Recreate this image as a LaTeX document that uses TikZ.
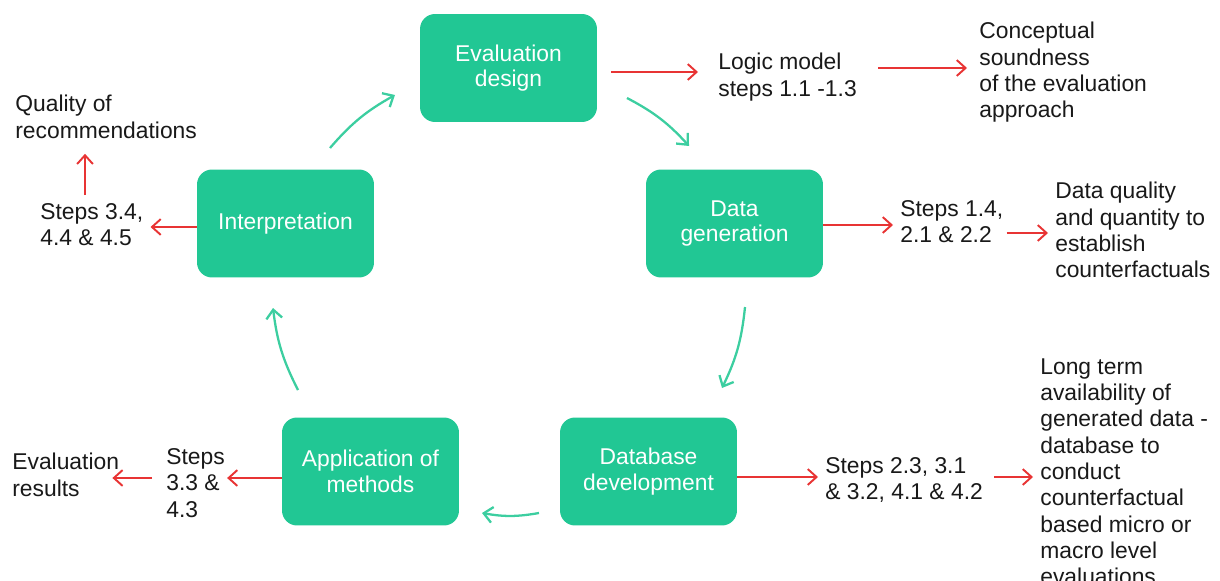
\documentclass[tikz,border=0pt]{standalone}
\usepackage{fontspec}
\setmainfont{Liberation Sans}
\usetikzlibrary{arrows.meta}
\definecolor{boxgreen}{RGB}{33,199,148}
\definecolor{arrgreen}{RGB}{60,206,160}
\definecolor{arrred}{RGB}{232,52,52}
\definecolor{txt}{RGB}{25,25,25}
\tikzset{
  stagebox/.style={rectangle, rounded corners=0.3cm, fill=boxgreen, text=white,
    minimum width=3.54cm, minimum height=2.16cm, align=center, inner sep=0pt,
    font=\fontsize{13}{14.5}\selectfont},
  lbl/.style={anchor=north west, align=left, inner sep=0pt, text=txt,
    font=\fontsize{13}{15}\selectfont},
  redarr/.style={draw=arrred, line width=1.1pt, -{Straight Barb[length=5pt,width=9pt]}},
  greenarr/.style={draw=arrgreen, line width=1.3pt, -{Straight Barb[length=5pt,width=9pt]}, bend left=10},
}
\begin{document}
\begin{tikzpicture}[x=0.02cm,y=0.02cm]
\useasboundingbox (0,0) rectangle (1220,-581);
\clip (0,0) rectangle (1220,-581);

% stage boxes
\node[stagebox] (eval)   at (508.5,-68)   {Evaluation\\design};
\node[stagebox] (datagen) at (734.5,-223.5) {Data\\generation};
\node[stagebox] (dbdev)  at (648.5,-471.5) {Database\\development};
\node[stagebox] (appl)   at (370.5,-471.5) {Application of\\methods};
\node[stagebox] (interp) at (285.5,-223.5) {Interpretation};

% labels
\node[lbl] (logic)    at (718,-53)  {Logic model\\steps 1.1 -1.3};
\node[lbl] (concept)  at (979,-22)  {Conceptual\\soundness\\of the evaluation\\approach};
\node[lbl] (steps14)  at (900,-200) {Steps 1.4,\\2.1 \& 2.2};
\node[lbl] (dataq)    at (1055,-182) {Data quality\\and quantity to\\establish\\counterfactuals};
\node[lbl] (steps23)  at (825,-457) {Steps 2.3, 3.1\\\& 3.2, 4.1 \& 4.2};
\node[lbl] (longterm) at (1040,-358) {Long term\\availability of\\generated data -\\database to\\conduct\\counterfactual\\based micro or\\macro level\\evaluations};
\node[lbl] (steps33)  at (166,-448) {Steps\\3.3 \&\\4.3};
\node[lbl] (evalres)  at (12,-453)  {Evaluation\\results};
\node[lbl] (steps34)  at (40,-203)  {Steps 3.4,\\4.4 \& 4.5};
\node[lbl] (quality)  at (15,-95)   {Quality of\\recommendations};

% red arrows
\draw[redarr, shorten <=0.28cm, shorten >=0.40cm] (eval.east |- 0,-72) -- (logic.west |- 0,-72);
\draw[redarr, shorten <=0.42cm, shorten >=0.24cm] (logic.east |- 0,-68) -- (concept.west |- 0,-68);
\draw[redarr, shorten >=0.14cm] (datagen.east |- 0,-225) -- (steps14.west |- 0,-225);
\draw[redarr, shorten <=0.06cm, shorten >=0.14cm] (steps14.east |- 0,-233) -- (dataq.west |- 0,-233);
\draw[redarr, shorten >=0.14cm] (dbdev.east |- 0,-477) -- (steps23.west |- 0,-477);
\draw[redarr, shorten <=0.22cm, shorten >=0.14cm] (steps23.east |- 0,-477) -- (longterm.west |- 0,-477);
\draw[redarr, shorten >=0.04cm] (appl.west |- 0,-478) -- (steps33.east |- 0,-478);
\draw[redarr, shorten <=0.28cm, shorten >=-0.14cm] (steps33.west |- 0,-478) -- (evalres.east |- 0,-478);
\draw[redarr, shorten >=0.14cm] (interp.west |- 0,-227) -- (steps34.east |- 0,-227);
\draw[redarr, shorten <=0.16cm, shorten >=0.30cm] (85,0 |- steps34.north) -- (85,0 |- quality.south);

% green cycle arrows
\coordinate (g1s) at (330,-148); \coordinate (g1e) at (395,-95);
\coordinate (g2s) at (627,-98);  \coordinate (g2e) at (689,-146);
\coordinate (g3s) at (745,-307); \coordinate (g3e) at (722,-388);
\coordinate (g4s) at (539,-513); \coordinate (g4e) at (482,-513);
\coordinate (g5s) at (298,-390); \coordinate (g5e) at (273,-308);
\draw[greenarr] (g1s) to (g1e);
\draw[greenarr] (g2s) to (g2e);
\draw[greenarr] (g3s) to (g3e);
\draw[greenarr] (g4s) to (g4e);
\draw[greenarr] (g5s) to (g5e);
\end{tikzpicture}
\end{document}
